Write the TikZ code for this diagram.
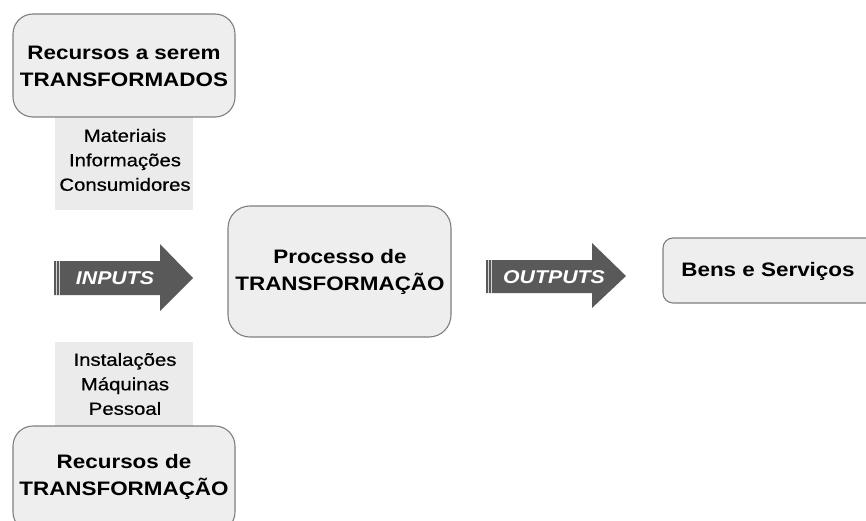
\documentclass[tikz,border=0pt]{standalone}
\usepackage{fontspec}
\setmainfont{Liberation Sans}[FakeStretch=1.15]
\newfontfamily\labfont{Liberation Sans}[FakeStretch=1.15, FakeBold=0.6]
\definecolor{boxfill}{HTML}{EEEEEE}
\definecolor{boxline}{HTML}{7F7F7F}
\definecolor{labfill}{HTML}{EBEBEB}
\definecolor{arrfill}{HTML}{595959}
\tikzset{
  resbox/.style={draw=boxline, line width=1.1pt, fill=boxfill, rounded corners=20pt},
  labbox/.style={fill=labfill, draw=none},
  titletext/.style={align=center, font=\bfseries\fontsize{19.5}{27}\selectfont},
  labtext/.style={align=center, font=\labfont\fontsize{17.7}{24.5}\selectfont},
  arrtext/.style={text=white, font=\bfseries\itshape\fontsize{18.5}{22}\selectfont},
  arrshape/.style={fill=arrfill, draw=none},
  stripe/.style={draw=white!75!arrfill, line width=1.1pt}
}
\begin{document}
\begin{tikzpicture}[x=1pt,y=-1pt]
\useasboundingbox (0,0) rectangle (866,521);
\clip (0,0) rectangle (866,521);
% label boxes
\fill[labbox] (55,117) rectangle (193,210);
\fill[labbox] (55,342) rectangle (193,427);
\node[labtext] (mat) at (125,160) {Materiais\\Informações\\Consumidores};
\node[labtext] (inst) at (125,384) {Instalações\\Máquinas\\Pessoal};
% resource boxes
\draw[resbox] (13,14) rectangle (235,117);
\node[titletext] (rt) at (124,66) {Recursos a serem\\TRANSFORMADOS};
\draw[resbox] (13,426) rectangle (235,532);
\node[titletext] (rdt) at (124,477) {Recursos de\\TRANSFORMAÇÃO};
% process box
\draw[resbox, rounded corners=22pt] (228,206) rectangle (451,337);
\node[titletext] (proc) at (340,272) {Processo de\\TRANSFORMAÇÃO};
% output box
\draw[resbox, rounded corners=10pt] (663,238) rectangle (880,303);
\node[titletext] (bens) at (768,271) {Bens e Serviços};
% inputs arrow
\fill[arrshape] (54,261) -- (160,261) -- (160,244) -- (193,278) -- (160,311) -- (160,295) -- (54,295) -- cycle;
\draw[stripe] (56.8,261) -- (56.8,295);
\draw[stripe] (59.8,261) -- (59.8,295);
\node[arrtext] (inp) at (115,278) {INPUTS};
% outputs arrow
\fill[arrshape] (486,260) -- (592,260) -- (592,243) -- (626,276) -- (592,308) -- (592,293) -- (486,293) -- cycle;
\draw[stripe] (488.8,260) -- (488.8,293);
\draw[stripe] (491.8,260) -- (491.8,293);
\node[arrtext] (outp) at (554,277) {OUTPUTS};
\end{tikzpicture}
\end{document}
